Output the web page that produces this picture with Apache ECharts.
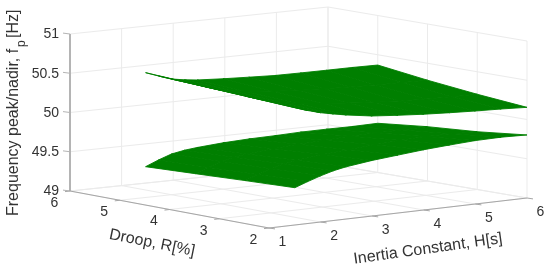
<!DOCTYPE html>
<html><head><meta charset="utf-8">
<style>html,body{margin:0;padding:0;background:#fff}#c{width:550px;height:272px}</style>
<script src="https://cdn.jsdelivr.net/npm/echarts@6/dist/echarts.min.js"></script>
</head><body><div id="c"></div>
<script>
// Data
var hValues = [1.5, 1.75, 2, 2.25, 2.5, 3, 3.5, 4, 4.5, 5, 5.5, 6];
var rValues = [2, 3, 4, 5];
var peakZ = [
  [50.494, 50.439, 50.392, 50.357, 50.325, 50.274, 50.245, 50.220, 50.201, 50.185, 50.172, 50.155],
  [50.526, 50.470, 50.420, 50.386, 50.358, 50.318, 50.287, 50.262, 50.240, 50.226, 50.218, 50.213],
  [50.559, 50.500, 50.447, 50.415, 50.392, 50.362, 50.339, 50.320, 50.306, 50.297, 50.290, 50.284],
  [50.590, 50.530, 50.474, 50.446, 50.426, 50.406, 50.391, 50.377, 50.374, 50.373, 50.373, 50.369]
];
var nadirZ = [
  [49.475, 49.534, 49.588, 49.634, 49.666, 49.708, 49.738, 49.768, 49.790, 49.808, 49.813, 49.803],
  [49.449, 49.507, 49.562, 49.604, 49.632, 49.669, 49.694, 49.718, 49.738, 49.749, 49.748, 49.736],
  [49.420, 49.482, 49.539, 49.575, 49.598, 49.630, 49.649, 49.664, 49.680, 49.686, 49.686, 49.692],
  [49.392, 49.460, 49.518, 49.548, 49.566, 49.590, 49.604, 49.610, 49.620, 49.622, 49.621, 49.627]
];
var hTicks = [1, 2, 3, 4, 5, 6];
var rTicks = [2, 3, 4, 5, 6];
var zTicks = [49, 49.5, 50, 50.5, 51];
var zLabels = ['49', '49.5', '50', '50.5', '51'];

// Orthographic-like camera matching the picture
function project(h, r, z) {
  var u = (h - 1) / 5, v = (r - 2) / 4;
  return [269 + 258 * u - 199 * v, 228 - 30 * u - 37 * v + 3 * u * v - 78.5 * (z - 49)];
}

function quads(Z) {
  var out = [];
  for (var i = 0; i < rValues.length - 1; i++)
    for (var j = 0; j < hValues.length - 1; j++)
      out.push([
        hValues[j], rValues[i], Z[i][j],
        hValues[j + 1], rValues[i], Z[i][j + 1],
        hValues[j + 1], rValues[i + 1], Z[i + 1][j + 1],
        hValues[j], rValues[i + 1], Z[i + 1][j]
      ]);
  return out;
}

function at(api, h, r, z, dx, dy) {
  var p = project(h, r, z);
  return api.coord([p[0] + (dx || 0), p[1] + (dy || 0)]);
}

function surfaceSeries(Z) {
  return {
    type: 'custom', coordinateSystem: 'cartesian2d', silent: true, z: 3,
    data: quads(Z),
    renderItem: function (params, api) {
      var pts = [];
      for (var k = 0; k < 4; k++)
        pts.push(at(api, api.value(3 * k), api.value(3 * k + 1), api.value(3 * k + 2)));
      return { type: 'polygon', shape: { points: pts },
        style: { fill: '#007f00', stroke: '#007f00', lineWidth: 0.9, lineJoin: 'round' } };
    }
  };
}

var gridSegs = [];
var hMin = hTicks[0], hMax = hTicks[hTicks.length - 1];
var rMin = rTicks[0], rMax = rTicks[rTicks.length - 1];
var zMin = zTicks[0], zMax = zTicks[zTicks.length - 1];
hTicks.forEach(function (h) {
  gridSegs.push([h, rMin, zMin, h, rMax, zMin]);
  gridSegs.push([h, rMax, zMin, h, rMax, zMax]);
});
rTicks.forEach(function (r) {
  gridSegs.push([hMin, r, zMin, hMax, r, zMin]);
  gridSegs.push([hMax, r, zMin, hMax, r, zMax]);
});
zTicks.forEach(function (z) {
  gridSegs.push([hMin, rMax, z, hMax, rMax, z]);
  gridSegs.push([hMax, rMax, z, hMax, rMin, z]);
});

var option = {
  animation: false,
  backgroundColor: '#fff',
  grid: { left: 0, right: 0, top: 0, bottom: 0 },
  xAxis: { type: 'value', min: 0, max: 550, show: false },
  yAxis: { type: 'value', min: 0, max: 272, inverse: true, show: false },
  tooltip: { show: false },
  series: [
    { type: 'custom', coordinateSystem: 'cartesian2d', silent: true, z: 1, data: gridSegs,
      renderItem: function (params, api) {
        var a = at(api, api.value(0), api.value(1), api.value(2));
        var b = at(api, api.value(3), api.value(4), api.value(5));
        return { type: 'line', shape: { x1: a[0], y1: a[1], x2: b[0], y2: b[1] },
          style: { stroke: '#ebebeb', lineWidth: 1 } };
      } },
    { type: 'custom', coordinateSystem: 'cartesian2d', silent: true, z: 2,
      data: [
        [hMin, rMax, zMin, hMin, rMax, zMax, 0, 0, '#b4b4b4', 2],
        [hMin, rMax, zMin, hMin, rMin, zMin, 0, 0, '#a6a6a6', 1.2],
        [hMin, rMin, zMin, hMax, rMin, zMin, 0, 0, '#a6a6a6', 1.2]
      ].concat(zTicks.map(function (z) { return [hMin, rMax, z, hMin, rMax, z, -7, -0.9, '#b4b4b4', 1]; }))
       .concat(rTicks.map(function (r) { return [hMin, r, zMin, hMin, r, zMin, -5, 0.6, '#a6a6a6', 1]; }))
       .concat(hTicks.map(function (h) { return [h, rMin, zMin, h, rMin, zMin, 6, 0.9, '#a6a6a6', 1]; })),
      renderItem: function (params, api) {
        var a = at(api, api.value(0), api.value(1), api.value(2));
        var b = at(api, api.value(3), api.value(4), api.value(5), api.value(6), api.value(7));
        return { type: 'line', shape: { x1: a[0], y1: a[1], x2: b[0], y2: b[1] },
          style: { stroke: api.value(8), lineWidth: api.value(9) } };
      } },
    surfaceSeries(peakZ),
    surfaceSeries(nadirZ),
    { type: 'custom', coordinateSystem: 'cartesian2d', silent: true, z: 4,
      data: zTicks.map(function (z, i) { return [hMin, rMax, z, -11, 0.5, zLabels[i], 'right']; })
        .concat(rTicks.map(function (r) { return [hMin, r, zMin, -15.5, 12, String(r), 'center']; }))
        .concat(hTicks.map(function (h) { return [h, rMin, zMin, 13.5, 14, String(h), 'center']; })),
      renderItem: function (params, api) {
        var p = at(api, api.value(0), api.value(1), api.value(2), api.value(3), api.value(4));
        return { type: 'text', x: p[0], y: p[1],
          style: { text: api.value(5), fill: '#333', align: api.value(6), verticalAlign: 'middle',
            font: '14px "Liberation Sans", Arial, sans-serif' } };
      } }
  ],
  graphic: [
    { type: 'text', x: 22, y: 216, rotation: Math.PI / 2, silent: true,
      style: { text: 'Frequency peak/nadir, f', fill: '#333', align: 'left', verticalAlign: 'bottom',
        font: '16px "Liberation Sans", Arial, sans-serif' } },
    { type: 'text', x: 28, y: 47, rotation: Math.PI / 2, silent: true,
      style: { text: 'p', fill: '#333', align: 'left', verticalAlign: 'bottom',
        font: '12px "Liberation Sans", Arial, sans-serif' } },
    { type: 'text', x: 22, y: 38, rotation: Math.PI / 2, silent: true,
      style: { text: '[Hz]', fill: '#333', align: 'left', verticalAlign: 'bottom',
        font: '16px "Liberation Sans", Arial, sans-serif' } },
    { type: 'text', x: 152, y: 243, rotation: -11.5 * Math.PI / 180, silent: true,
      style: { text: 'Droop, R[%]', fill: '#333', align: 'center', verticalAlign: 'middle',
        font: '16px "Liberation Sans", Arial, sans-serif' } },
    { type: 'text', x: 428, y: 249, rotation: 8 * Math.PI / 180, silent: true,
      style: { text: 'Inertia Constant, H[s]', fill: '#333', align: 'center', verticalAlign: 'middle',
        font: '16px "Liberation Sans", Arial, sans-serif' } }
  ]
};
echarts.init(document.getElementById('c')).setOption(option);
</script></body></html>
